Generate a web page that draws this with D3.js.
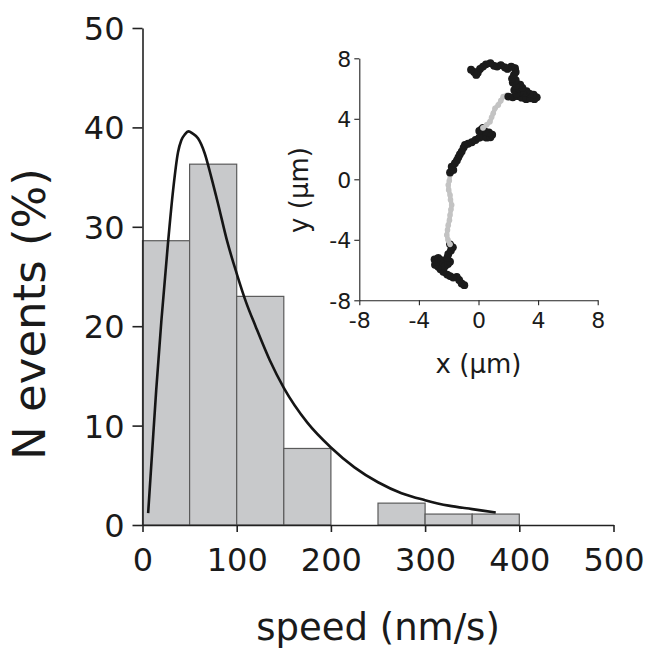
<!DOCTYPE html>
<html>
<head>
<meta charset="utf-8">
<script src="https://cdn.jsdelivr.net/npm/d3@7.9.0/dist/d3.min.js"></script>
<style>
  body { margin: 0; background: #fff; }
  svg { display: block; font-family: "DejaVu Sans", sans-serif; }
</style>
</head>
<body>
<svg id="chart" width="648" height="652"></svg>
<script>
// Histogram of speeds (percent of events per 50 nm/s bin)
const binStarts = [0, 50, 100, 150, 200, 250, 300, 350];
const binWidth = 50;
const binValues = [28.6, 36.3, 23.0, 7.7, 0, 2.2, 1.1, 1.1];

// Fitted distribution
const fitSpeed = [6, 10, 14.5, 20, 27, 32.5, 37.7, 41.2, 45, 49, 53, 58.9, 66, 73, 80, 90, 100, 110, 120, 135, 150, 175, 200, 225, 250, 275, 300, 325, 350, 375];
const fitPercent = [1.2, 7, 13.5, 20.5, 28.3, 33.7, 37.5, 38.7, 39.3, 39.6, 39.4, 38.9, 37.4, 35, 32.4, 28.5, 25.3, 22.4, 20, 16.6, 13.8, 10.3, 7.8, 5.8, 4.3, 3.2, 2.5, 1.95, 1.6, 1.25];

const xTicks = [0, 100, 200, 300, 400, 500];
const yTicks = [0, 10, 20, 30, 40, 50];

// Inset trajectory (x, y in µm), segments alternate paused (black) / moving (gray)
const pausedStart = [[-0.95, -7.0], [-1.13, -6.89], [-1.3, -6.65], [-1.46, -6.45], [-1.7, -6.5], [-1.91, -6.4], [-2.1, -6.3], [-2.36, -6.12], [-2.55, -5.95], [-2.70, -5.79], [-2.92, -5.65], [-2.85, -5.46], [-2.95, -5.3], [-2.70, -5.2], [-2.5, -5.35], [-2.35, -5.55], [-2.25, -5.75], [-2.05, -5.6], [-1.91, -5.45], [-2.1, -5.2], [-2.03, -4.95], [-1.85, -4.7], [-1.72, -4.5], [-1.91, -4.3]];
const movingFirst = [[-1.91, -4.3], [-2.05, -4.0], [-2.13, -3.69], [-2.08, -3.35], [-2.03, -3.03], [-1.95, -2.7], [-1.91, -2.36], [-1.85, -2.0], [-1.80, -1.70], [-1.88, -1.35], [-1.91, -1.04], [-2.0, -0.7], [-2.03, -0.38], [-1.96, -0.1], [-1.91, 0.28]];
const pausedMiddle = [[-1.91, 0.45], [-1.69, 0.62], [-1.80, 0.83], [-1.58, 1.06], [-1.45, 1.25], [-1.35, 1.45], [-1.25, 1.65], [-1.13, 1.83], [-1.0, 2.1], [-0.91, 2.27], [-0.7, 2.35], [-0.45, 2.45], [-0.2, 2.6], [0.05, 2.75], [0.32, 2.82], [0.55, 2.75], [0.8, 2.78], [0.92, 2.95], [0.7, 3.1], [0.45, 3.15], [0.2, 3.3], [0.05, 3.2], [0.3, 3.4]];
const movingSecond = [[0.3, 3.4], [0.55, 3.6], [0.77, 3.81], [0.88, 4.1], [0.99, 4.37], [1.11, 4.70], [1.33, 4.92], [1.5, 5.2], [1.66, 5.47], [1.9, 5.55]];
const pausedEnd = [[2.0, 5.47], [2.3, 5.42], [2.6, 5.5], [2.9, 5.4], [3.2, 5.3], [3.46, 5.36], [3.75, 5.3], [3.91, 5.42], [3.7, 5.6], [3.45, 5.65], [3.23, 5.82], [3.0, 5.7], [2.75, 5.75], [2.55, 5.65], [2.4, 5.9], [2.7, 6.0], [2.95, 6.05], [2.8, 6.25], [2.5, 6.2], [2.3, 6.4], [2.5, 6.55], [2.25, 6.65], [2.38, 6.9], [2.5, 7.1], [2.45, 7.35], [2.2, 7.45], [1.95, 7.3], [1.78, 7.4], [1.5, 7.55], [1.25, 7.45], [1.05, 7.5], [0.8, 7.68], [0.5, 7.6], [0.3, 7.45], [0.1, 7.3], [-0.05, 7.05], [-0.15, 6.9], [-0.3, 7.1], [-0.5, 7.25]];

const insetTicks = [-8, -4, 0, 4, 8];

const svg = d3.select("#chart");

// Main scales
const x = d3.scaleLinear().domain([0, 500]).range([142.5, 613.5]);
const y = d3.scaleLinear().domain([0, 50]).range([525, 28]);

// Bars
const bars = binStarts.map((s, i) => ({ start: s, value: binValues[i] })).filter(d => d.value > 0);
svg.append("g")
    .selectAll("rect")
    .data(bars)
    .join("rect")
    .attr("x", d => x(d.start))
    .attr("width", d => x(d.start + binWidth) - x(d.start))
    .attr("y", d => y(d.value))
    .attr("height", d => y(0) - y(d.value))
    .attr("fill", "#c8c9cb")
    .attr("stroke", "#5a5a5a")
    .attr("stroke-width", 1.2);

// Fit curve
const fitData = fitSpeed.map((s, i) => [s, fitPercent[i]]);
svg.append("path")
    .datum(fitData)
    .attr("fill", "none")
    .attr("stroke", "#151515")
    .attr("stroke-width", 2.6)
    .attr("d", d3.line().x(d => x(d[0])).y(d => y(d[1])).curve(d3.curveMonotoneX));

// Main axes
const xAxis = svg.append("g")
    .attr("transform", `translate(0,${y(0)})`)
    .call(d3.axisBottom(x).tickValues(xTicks).tickSize(7).tickSizeOuter(0).tickPadding(16));
const yAxis = svg.append("g")
    .attr("transform", `translate(${x(0)},0)`)
    .call(d3.axisLeft(y).tickValues(yTicks).tickSize(10).tickSizeOuter(0).tickPadding(8));

[xAxis, yAxis].forEach(g => {
    g.attr("font-family", "DejaVu Sans, sans-serif").attr("font-size", 32);
    g.select(".domain").attr("stroke", "#222").attr("stroke-width", 1.6);
    g.selectAll(".tick line").attr("stroke", "#222").attr("stroke-width", 1.6);
    g.selectAll(".tick text").attr("fill", "#1a1a1a");
});
yAxis.selectAll(".tick text").attr("dy", "0.36em");

svg.append("text")
    .attr("x", 378)
    .attr("y", 640)
    .attr("text-anchor", "middle")
    .attr("font-size", 37)
    .attr("fill", "#1a1a1a")
    .text("speed (nm/s)");

svg.append("text")
    .attr("transform", "translate(45,314) rotate(-90)")
    .attr("text-anchor", "middle")
    .attr("font-size", 45)
    .attr("fill", "#1a1a1a")
    .text("N events (%)");

// Inset
const ix = d3.scaleLinear().domain([-8, 8]).range([359.3, 597.7]);
const iy = d3.scaleLinear().domain([-8, 8]).range([300.3, 58.3]);

const inset = svg.append("g");
const ixAxis = inset.append("g")
    .attr("transform", `translate(0,${iy(-8)})`)
    .call(d3.axisBottom(ix).tickValues(insetTicks).tickFormat(d => String(d)).tickSize(5).tickSizeOuter(0).tickPadding(7));
const iyAxis = inset.append("g")
    .attr("transform", `translate(${ix(-8)},0)`)
    .call(d3.axisLeft(iy).tickValues(insetTicks).tickFormat(d => String(d)).tickSize(5).tickSizeOuter(0).tickPadding(3));

[ixAxis, iyAxis].forEach(g => {
    g.attr("font-family", "DejaVu Sans, sans-serif").attr("font-size", 22);
    g.select(".domain").attr("stroke", "#222").attr("stroke-width", 1.1);
    g.selectAll(".tick line").attr("stroke", "#222").attr("stroke-width", 1.1);
    g.selectAll(".tick text").attr("fill", "#1a1a1a");
});
iyAxis.selectAll(".tick text").attr("dy", "0.36em");

inset.append("text")
    .attr("x", 478.5)
    .attr("y", 373)
    .attr("text-anchor", "middle")
    .attr("font-size", 26)
    .attr("fill", "#1a1a1a")
    .text("x (\u03bcm)");

inset.append("text")
    .attr("transform", "translate(308,190) rotate(-90)")
    .attr("text-anchor", "middle")
    .attr("font-size", 26)
    .attr("fill", "#1a1a1a")
    .text("y (\u03bcm)");

// Trajectory
const segments = [
    { pts: pausedStart, color: "#1b1b1b", width: 6.5, r: 3.9 },
    { pts: movingFirst, color: "#c3c3c3", width: 4.5, r: 2.8 },
    { pts: pausedMiddle, color: "#1b1b1b", width: 6.5, r: 3.9 },
    { pts: movingSecond, color: "#c3c3c3", width: 4.5, r: 2.8 },
    { pts: pausedEnd, color: "#1b1b1b", width: 6.5, r: 3.9 }
];
const trackLine = d3.line().x(d => ix(d[0])).y(d => iy(d[1]));
segments.forEach(seg => {
    inset.append("path")
        .datum(seg.pts)
        .attr("fill", "none")
        .attr("stroke", seg.color)
        .attr("stroke-width", seg.width)
        .attr("stroke-linejoin", "round")
        .attr("stroke-linecap", "round")
        .attr("d", trackLine);
    inset.append("g")
        .selectAll("circle")
        .data(seg.pts)
        .join("circle")
        .attr("cx", d => ix(d[0]))
        .attr("cy", d => iy(d[1]))
        .attr("r", seg.r)
        .attr("fill", seg.color);
});
</script>
</body>
</html>
